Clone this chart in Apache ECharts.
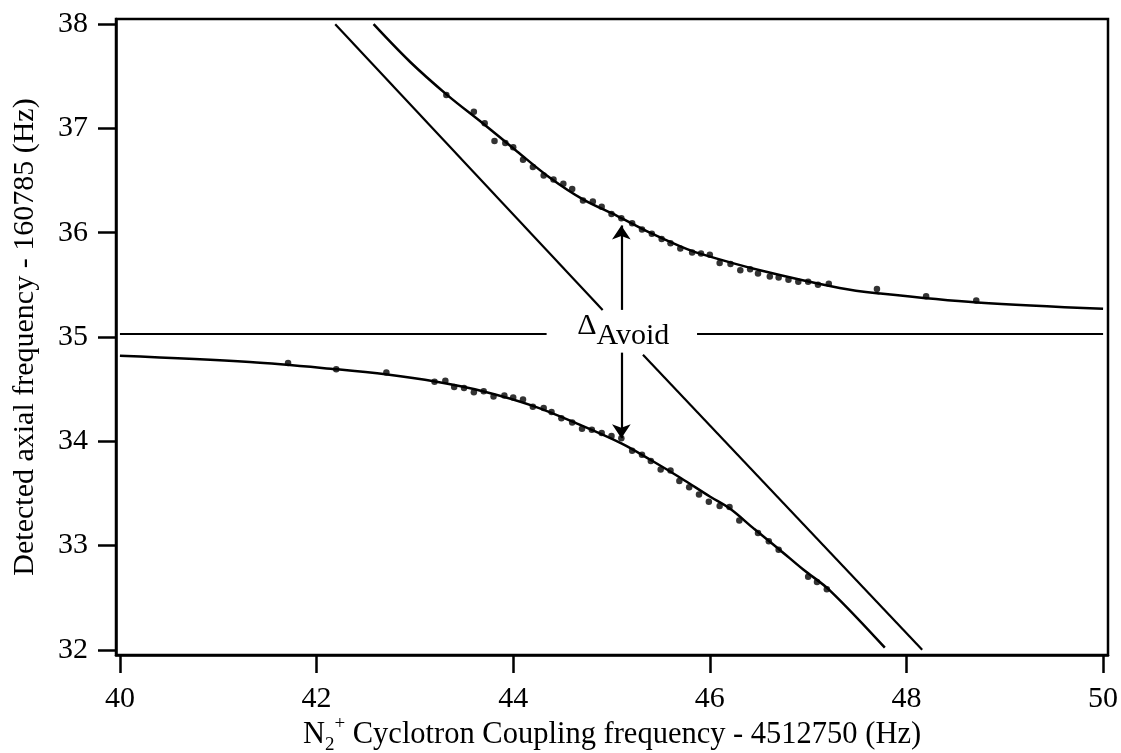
<!DOCTYPE html>
<html>
<head>
<meta charset="utf-8">
<script src="https://cdn.jsdelivr.net/npm/echarts@6/dist/echarts.min.js"></script>
<style>
html, body { margin: 0; padding: 0; background: #ffffff; }
#chart { width: 1121px; height: 753px; }
</style>
</head>
<body>
<div id="chart"></div>
<script>
// Tick positions
const xTicks = [40, 42, 44, 46, 48, 50];
const yTicks = [32, 33, 34, 35, 36, 37, 38];

// Fitted upper branch of the avoided crossing (x offset Hz, axial offset Hz)
const upperFit = [
  [42.58, 38.00], [42.95, 37.64], [43.33, 37.32], [43.69, 37.05], [44.04, 36.78],
  [44.37, 36.53], [44.71, 36.32], [45.06, 36.16], [45.39, 36.00], [45.70, 35.87],
  [45.90, 35.80], [46.51, 35.64], [47.32, 35.47], [47.70, 35.42], [48.72, 35.33],
  [50.00, 35.27]
];

// Fitted lower branch
const lowerFit = [
  [40.00, 34.82], [41.32, 34.76], [42.21, 34.69], [42.72, 34.64], [43.22, 34.57],
  [43.69, 34.48], [44.20, 34.34], [44.65, 34.17], [45.10, 33.98], [45.40, 33.82],
  [45.70, 33.65], [46.00, 33.47], [46.21, 33.35], [46.45, 33.16], [46.71, 32.96],
  [46.95, 32.77], [47.22, 32.57], [47.78, 32.02]
];

// Measured axial frequencies, upper branch
const upperPoints = [
  [43.32, 37.32], [43.60, 37.16], [43.71, 37.05], [43.81, 36.88], [43.92, 36.86],
  [44.00, 36.82], [44.10, 36.70], [44.20, 36.63], [44.31, 36.55], [44.41, 36.51],
  [44.51, 36.47], [44.60, 36.42], [44.71, 36.31], [44.81, 36.30], [44.90, 36.25],
  [45.00, 36.18], [45.10, 36.14], [45.21, 36.09], [45.31, 36.03], [45.41, 35.99],
  [45.51, 35.94], [45.60, 35.90], [45.70, 35.85], [45.82, 35.81], [45.91, 35.80],
  [46.00, 35.79], [46.10, 35.71], [46.21, 35.70], [46.31, 35.64], [46.41, 35.65],
  [46.49, 35.61], [46.61, 35.58], [46.70, 35.57], [46.80, 35.55], [46.90, 35.53],
  [47.00, 35.53], [47.10, 35.50], [47.21, 35.51], [47.70, 35.46], [48.20, 35.39],
  [48.71, 35.35]
];

// Measured axial frequencies, lower branch
const lowerPoints = [
  [41.71, 34.75], [42.20, 34.69], [42.71, 34.66], [43.20, 34.57], [43.31, 34.58],
  [43.40, 34.52], [43.50, 34.51], [43.60, 34.47], [43.70, 34.48], [43.80, 34.43],
  [43.91, 34.44], [44.00, 34.42], [44.10, 34.40], [44.20, 34.33], [44.31, 34.32],
  [44.39, 34.28], [44.49, 34.22], [44.60, 34.18], [44.70, 34.12], [44.80, 34.11],
  [44.90, 34.08], [45.00, 34.05], [45.10, 34.03], [45.21, 33.91], [45.31, 33.87],
  [45.40, 33.81], [45.50, 33.73], [45.60, 33.72], [45.69, 33.62], [45.79, 33.56],
  [45.89, 33.49], [45.99, 33.42], [46.10, 33.38], [46.20, 33.37], [46.30, 33.24],
  [46.49, 33.12], [46.60, 33.04], [46.70, 32.96], [47.00, 32.70], [47.09, 32.65],
  [47.19, 32.58]
];

// Uncoupled axial level (horizontal) and uncoupled cyclotron line (diagonal)
const axialLevel = 35.03;
const axialSegments = [[40.00, 44.34], [45.87, 50.00]];
const cyclotronSegments = [
  [[42.19, 38.00], [44.91, 35.26]],
  [[45.32, 34.83], [48.16, 32.00]]
];

// Splitting marker
const avoidX = 45.10;
const avoidArrows = [[35.26, 36.07], [34.85, 34.03]];

const FONT = '"Liberation Serif", "Times New Roman", serif';
const INK = '#000000';

const straightLines = axialSegments.map(s => ({ coords: [[s[0], axialLevel], [s[1], axialLevel]] }))
  .concat(cyclotronSegments.map(s => ({ coords: s })));
const arrowLines = avoidArrows.map(a => ({ coords: [[avoidX, a[0]], [avoidX, a[1]]] }));

const chart = echarts.init(document.getElementById('chart'), null, { renderer: 'canvas' });

chart.setOption({
  backgroundColor: '#ffffff',
  animation: false,
  textStyle: { fontFamily: FONT, color: INK },
  grid: {
    left: 116, right: 13, top: 19, bottom: 98,
    containLabel: false, outerBoundsMode: 'none',
    show: true, borderColor: INK, borderWidth: 2.5, backgroundColor: 'transparent'
  },
  xAxis: {
    type: 'value',
    min: 39.96, max: 50.05,
    axisLine: { show: true, lineStyle: { color: INK, width: 2.5 } },
    axisTick: { show: true, inside: false, length: 18, lineStyle: { color: INK, width: 2.5 }, customValues: xTicks },
    axisLabel: { fontFamily: FONT, fontSize: 30, color: INK, margin: 29, customValues: xTicks },
    splitLine: { show: false },
    name: '{n|N}{sub|2}{sup|+}{n| Cyclotron Coupling frequency - 4512750 (Hz)}',
    nameLocation: 'middle',
    nameGap: 60,
    nameMoveOverlap: false,
    nameTextStyle: {
      fontFamily: FONT, color: INK,
      rich: {
        n: { fontFamily: FONT, fontSize: 30.5, lineHeight: 40, color: INK },
        sub: { fontFamily: FONT, fontSize: 19, lineHeight: 18, verticalAlign: 'bottom', color: INK },
        sup: { fontFamily: FONT, fontSize: 19, lineHeight: 18, verticalAlign: 'top', color: INK }
      }
    }
  },
  yAxis: {
    type: 'value',
    min: 31.95, max: 38.05,
    axisLine: { show: true, lineStyle: { color: INK, width: 2.5 } },
    axisTick: { show: true, inside: false, length: 18, lineStyle: { color: INK, width: 2.5 }, customValues: yTicks },
    axisLabel: { fontFamily: FONT, fontSize: 30, color: INK, margin: 28, customValues: yTicks },
    splitLine: { show: false },
    name: 'Detected axial frequency - 160785 (Hz)',
    nameLocation: 'middle',
    nameGap: 76,
    nameMoveOverlap: false,
    nameTextStyle: { fontFamily: FONT, fontSize: 30, color: INK }
  },
  series: [
    {
      type: 'line', data: upperFit, smooth: 0.35, showSymbol: false, symbol: 'none',
      lineStyle: { color: INK, width: 2.5 }, silent: true, z: 3
    },
    {
      type: 'line', data: lowerFit, smooth: 0.35, showSymbol: false, symbol: 'none',
      lineStyle: { color: INK, width: 2.5 }, silent: true, z: 3
    },
    {
      type: 'scatter', data: upperPoints, symbol: 'circle', symbolSize: 6.5,
      itemStyle: { color: INK }, silent: true, z: 4
    },
    {
      type: 'scatter', data: lowerPoints, symbol: 'circle', symbolSize: 6.5,
      itemStyle: { color: INK }, silent: true, z: 4
    },
    {
      type: 'lines', coordinateSystem: 'cartesian2d', data: straightLines,
      symbol: ['none', 'none'],
      lineStyle: { color: INK, width: 2.2, opacity: 1 }, silent: true, z: 3
    },
    {
      type: 'lines', coordinateSystem: 'cartesian2d', data: arrowLines,
      symbol: ['none', 'arrow'], symbolSize: 14,
      lineStyle: { color: INK, width: 2.2, opacity: 1 }, silent: true, z: 3
    },
    {
      type: 'scatter', data: [[avoidX, axialLevel]], symbolSize: 0, silent: true, z: 5,
      label: {
        show: true, position: 'inside', offset: [2, -3],
        color: INK, textBorderWidth: 0, opacity: 1,
        formatter: '{d|\u0394}{s|Avoid}',
        rich: {
          d: { fontFamily: FONT, fontSize: 30, lineHeight: 30, padding: [0, 0, 10, 0], color: INK, textBorderWidth: 0 },
          s: { fontFamily: FONT, fontSize: 30, lineHeight: 30, padding: [10, 0, 0, 0], color: INK, textBorderWidth: 0 }
        }
      }
    }
  ]
});
</script>
</body>
</html>
